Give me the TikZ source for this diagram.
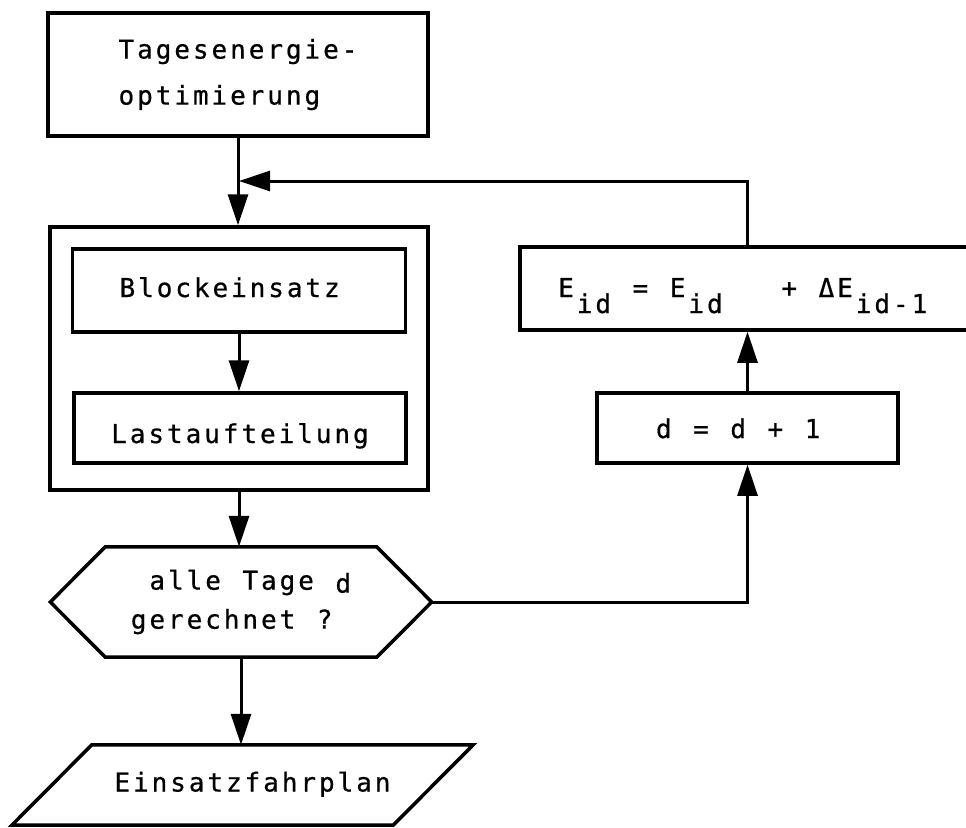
\documentclass[tikz,border=0pt]{standalone}
\usepackage{fontspec}
\newfontfamily\typewriter[FakeBold=0.6]{DejaVu Sans Mono}
\usepackage{tikz}
\usetikzlibrary{arrows.meta}
% every letter in a cell of its own, as on the typewriter
\newlength\twpitch
\setlength\twpitch{18.6pt}
\def\twend{\twend}
\newcommand\tw[1]{\twloop#1\twend}
\def\twloop#1{\ifx\twend#1\else\makebox[\twpitch]{#1}\expandafter\twloop\fi}
\newcommand\low{\raisebox{-16pt}}
\tikzset{
	box/.style={
		% The shape:
		rectangle,inner sep=0pt,
		% The border:
		draw=black,line width=3.5pt,
		% The text:
		font=\typewriter\fontsize{26pt}{46pt}\selectfont,
	}}
\tikzset{
	plain/.style={
		% no border, only the text
		rectangle,inner sep=0pt,
		font=\typewriter\fontsize{26pt}{39pt}\selectfont,
	}}
\tikzset{
	frame/.style={line width=3.5pt},
	flow/.style={
		% thick line with a long black head
		line width=3pt,-{Triangle[length=31pt,width=20pt]},
	}}

\begin{document}
\begin{tikzpicture}[x=1pt,y=-1pt]
\useasboundingbox (0,0) rectangle (966,827);
\clip (0,0) rectangle (966,827);
% left column
\node[box,minimum width=380pt,minimum height=123pt,align=left] (opt) at (238,74.5) {\tw{Tagesenergie-}\\\tw{optimierung}};
\node[box,minimum width=378pt,minimum height=263pt] (stage) at (239,358.5) {};
\node[box,minimum width=333pt,minimum height=83pt,text height=20pt,text depth=7pt] (block) at (239,290.5) {\tw{Blockeinsatz~}};
\node[box,minimum width=332pt,minimum height=70pt,text height=30pt,text depth=0pt] (last) at (240,428) {\tw{Lastaufteilung}};
\node[plain,minimum width=271pt,minimum height=110pt,align=left] (ask) at (241,602) {\tw{~alle~Tage~{\raisebox{-3pt}{d}}}\\\tw{gerechnet~?}};
\draw[frame] (ask.north west) -- (ask.north east) -- ([xshift=55pt]ask.east) coordinate (ask-e)
	-- (ask.south east) -- (ask.south west) -- ([xshift=-55pt]ask.west) -- cycle;
\node[plain,minimum width=381pt,minimum height=80pt,text height=20pt,text depth=7pt] (plan) at (242.5,785) {\hspace*{20pt}\tw{Einsatzfahrplan}};
\draw[frame] ([xshift=40pt]plan.north west) -- ([xshift=40pt]plan.north east)
	-- ([xshift=-40pt]plan.south east) -- ([xshift=-40pt]plan.south west) -- cycle;
% right column
\node[box,minimum width=301pt,minimum height=70pt,text height=22pt,text depth=2pt] (incr) at (747.5,428) {\tw{d~=~d~+~1~}};
\node[box,anchor=west,minimum height=83pt,text width=408pt,inner xsep=37pt,align=left,text height=25pt,text depth=8pt] (upd) at (518,288.5)
	{\tw{E{\low i}{\low d}~=~E{\low i}{\low d}~~~+~ΔE{\low i}{\low d}{\low -}{\low 1}}};
\coordinate (join) at (239,181);
% connectors
\draw[flow] (opt.south) -- (opt.south |- stage.north);
\draw[flow] (block.south) -- (block.south |- last.north);
\draw[flow] (stage.south) -- (stage.south |- ask.north);
\draw[flow] (ask.south) -- (ask.south |- plan.north);
\draw[flow] (ask-e) -| (incr.south);
\draw[flow] (incr.north) -- (incr.north |- upd.south);
\draw[flow] (incr.north |- upd.north) |- (join);
\end{tikzpicture}
\end{document}
